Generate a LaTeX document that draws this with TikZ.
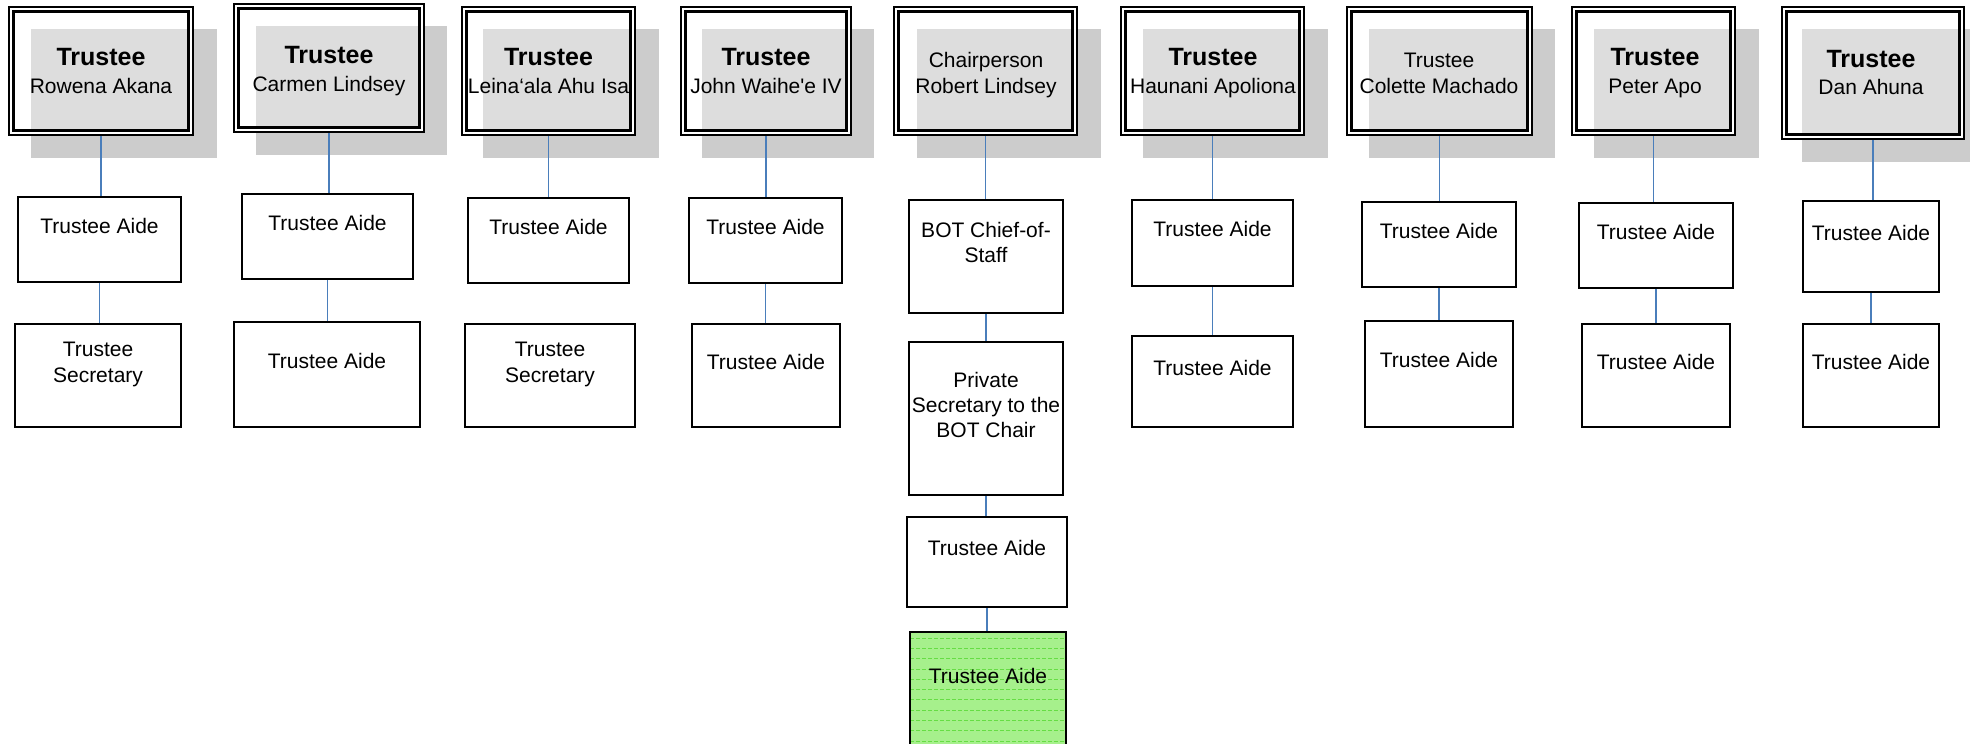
\documentclass[tikz,border=0pt]{standalone}
\usepackage{fontspec}
\newfontfamily\lsans{Liberation Sans}
\usetikzlibrary{fit}
\definecolor{shadowgray}{HTML}{CCCCCC}
\definecolor{overlapgray}{HTML}{DDDDDD}
\definecolor{connblue}{HTML}{4A7EBB}
\definecolor{greenfill}{HTML}{A6F08C}
\definecolor{greenline}{HTML}{66DD44}
\tikzset{
  box/.style={draw=black, line width=1.8pt, inner sep=0pt, fill=white},
  outerb/.style={draw=black, line width=1.6pt, inner sep=0pt},
  innerb/.style={draw=black, line width=2.3pt, inner sep=0pt},
  conn/.style={draw=connblue, line width=1.5pt},
  ttl/.style={font=\lsans\bfseries\fontsize{25}{30}\selectfont, inner sep=0pt, anchor=base},
  txt/.style={font=\lsans\fontsize{21}{25}\selectfont, inner sep=0pt, anchor=base},
}
% #1 name, #2-#5 outer box (x1,y1,x2,y2), #6-#9 shadow (x1,y1,x2,y2)
\newcommand\topbox[9]{%
  \fill[shadowgray] (#6,#7) rectangle (#8,#9);
  \fill[white] (#2,#3) rectangle (#4,#5);
  \fill[overlapgray] (#6,#7) rectangle (#4-4.5,#5-4.5);
  \node[outerb, fit={(#2,#3) (#4,#5)}] (#1) {};
  \node[innerb, fit={(#2+4.5,#3+4.5) (#4-4.5,#5-4.5)}] (#1i) {};
}
\newcommand\plainbox[5]{%
  \node[box, fit={(#2,#3) (#4,#5)}] (#1) {};
}
\begin{document}
\begin{tikzpicture}[x=1pt,y=-1pt]
\useasboundingbox (0,0) rectangle (1970,744);
\fill[white] (0,0) rectangle (1970,744);

% ---------- top boxes ----------
\topbox{t1}{9}{7}{193}{135}{31}{29}{217}{158}
\topbox{t2}{234}{4}{424}{132}{256}{26}{447}{155}
\topbox{t3}{462}{7}{635}{135}{483}{29}{659}{158}
\topbox{t4}{681}{7}{851}{135}{702}{29}{874}{158}
\topbox{t5}{894}{7}{1077}{135}{917}{29}{1101}{158}
\topbox{t6}{1121}{7}{1304}{135}{1143}{29}{1328}{158}
\topbox{t7}{1347}{7}{1532}{135}{1369}{29}{1555}{158}
\topbox{t8}{1572}{7}{1735}{135}{1594}{29}{1759}{158}
\topbox{t9}{1782}{7}{1964}{139}{1802}{29}{1972}{162}

% ---------- lower boxes ----------
\plainbox{a1}{18}{197}{181}{282}
\plainbox{b1}{15}{324}{181}{427}
\plainbox{a2}{242}{194}{413}{279}
\plainbox{b2}{234}{322}{420}{427}
\plainbox{a3}{468}{198}{629}{283}
\plainbox{b3}{465}{324}{635}{427}
\plainbox{a4}{689}{198}{842}{283}
\plainbox{b4}{692}{324}{840}{427}
\plainbox{a5}{909}{200}{1063}{313}
\plainbox{b5}{909}{342}{1063}{495}
\plainbox{c5}{907}{517}{1067}{607}
\node[box, fill=greenfill, fit={(910,632) (1066,747)}] (d5) {};
\begin{scope}
  \clip (911,633) rectangle (1065,744);
  \foreach \yy in {638,648.3,...,744} {
    \draw[greenline, line width=0.8pt, dash pattern=on 4pt off 2pt] (910,\yy) -- (1066,\yy);
  }
\end{scope}
\draw[black, line width=1.8pt] (910,632) -- (910,747) (1066,632) -- (1066,747) (910,632) -- (1066,632);
\plainbox{a6}{1132}{200}{1293}{286}
\plainbox{b6}{1132}{336}{1293}{427}
\plainbox{a7}{1362}{202}{1516}{287}
\plainbox{b7}{1365}{321}{1513}{427}
\plainbox{a8}{1579}{203}{1733}{288}
\plainbox{b8}{1582}{324}{1730}{427}
\plainbox{a9}{1803}{201}{1939}{292}
\plainbox{b9}{1803}{324}{1939}{427}

% ---------- connectors ----------
\draw[conn] (t1.south) -- (t1.south |- a1.north);
\draw[conn] (a1.south) -- (a1.south |- b1.north);
\draw[conn] (t2.south) -- (t2.south |- a2.north);
\draw[conn] (a2.south) -- (a2.south |- b2.north);
\draw[conn] (t3.south) -- (t3.south |- a3.north);
\draw[conn] (t4.south) -- (t4.south |- a4.north);
\draw[conn] (a4.south) -- (a4.south |- b4.north);
\draw[conn] (t5.south) -- (t5.south |- a5.north);
\draw[conn] (a5.south) -- (a5.south |- b5.north);
\draw[conn] (b5.south) -- (b5.south |- c5.north);
\draw[conn] (c5.south) -- (c5.south |- d5.north);
\draw[conn] (t6.south) -- (t6.south |- a6.north);
\draw[conn] (a6.south) -- (a6.south |- b6.north);
\draw[conn] (t7.south) -- (t7.south |- a7.north);
\draw[conn] (a7.south) -- (a7.south |- b7.north);
\draw[conn] (t8.south) -- (t8.south |- a8.north);
\draw[conn] (a8.south) -- (a8.south |- b8.north);
\draw[conn] (t9.south) -- (t9.south |- a9.north);
\draw[conn] (a9.south) -- (a9.south |- b9.north);

% ---------- texts ----------
\node[ttl] (t1x) at (101,65) {Trustee};
\node[txt] (t1y) at (101,93) {Rowena Akana};
\node[txt] (a1x) at (99.5,233) {Trustee Aide};
\node[txt] (b1x) at (98,356) {Trustee};
\node[txt] (b1y) at (98,382) {Secretary};

\node[ttl] (t2x) at (329,63) {Trustee};
\node[txt] (t2y) at (329,91) {Carmen Lindsey};
\node[txt] (a2x) at (327.5,230) {Trustee Aide};
\node[txt] (b2x) at (327,368) {Trustee Aide};

\node[ttl] (t3x) at (548.5,65) {Trustee};
\node[txt] (t3y) at (548.5,93) {Leina‘ala Ahu Isa};
\node[txt] (a3x) at (548.5,234) {Trustee Aide};
\node[txt] (b3x) at (550,356) {Trustee};
\node[txt] (b3y) at (550,382) {Secretary};

\node[ttl] (t4x) at (766,65) {Trustee};
\node[txt] (t4y) at (766,93) {John Waihe'e IV};
\node[txt] (a4x) at (765.5,234) {Trustee Aide};
\node[txt] (b4x) at (766,369) {Trustee Aide};

\node[txt] (t5x) at (986,67) {Chairperson};
\node[txt] (t5y) at (986,93) {Robert Lindsey};
\node[txt] (a5x) at (986,237) {BOT Chief-of-};
\node[txt] (a5y) at (986,262) {Staff};
\node[txt] (b5x) at (986,387) {Private};
\node[txt] (b5y) at (986,412) {Secretary to the};
\node[txt] (b5z) at (986,437) {BOT Chair};
\node[txt] (c5x) at (987,555) {Trustee Aide};
\node[txt] (d5x) at (988,683) {Trustee Aide};

\node[ttl] (t6x) at (1213,65) {Trustee};
\node[txt] (t6y) at (1213,93) {Haunani Apoliona};
\node[txt] (a6x) at (1212.5,236) {Trustee Aide};
\node[txt] (b6x) at (1212.5,375) {Trustee Aide};

\node[txt] (t7x) at (1439,67) {Trustee};
\node[txt] (t7y) at (1439,93) {Colette Machado};
\node[txt] (a7x) at (1439,238) {Trustee Aide};
\node[txt] (b7x) at (1439,367) {Trustee Aide};

\node[ttl] (t8x) at (1655,65) {Trustee};
\node[txt] (t8y) at (1655,93) {Peter Apo};
\node[txt] (a8x) at (1656,239) {Trustee Aide};
\node[txt] (b8x) at (1656,369) {Trustee Aide};

\node[ttl] (t9x) at (1871,67) {Trustee};
\node[txt] (t9y) at (1871,94) {Dan Ahuna};
\node[txt] (a9x) at (1871,240) {Trustee Aide};
\node[txt] (b9x) at (1871,369) {Trustee Aide};
\end{tikzpicture}
\end{document}
